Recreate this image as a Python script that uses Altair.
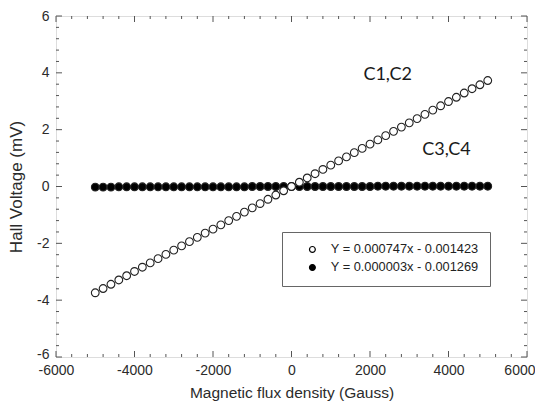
import altair as alt
import pandas as pd

# ---- data ----
flux = [-5000, -4800, -4600, -4400, -4200, -4000, -3800, -3600, -3400, -3200,
        -3000, -2800, -2600, -2400, -2200, -2000, -1800, -1600, -1400, -1200,
        -1000, -800, -600, -400, -200, 0, 200, 400, 600, 800,
        1000, 1200, 1400, 1600, 1800, 2000, 2200, 2400, 2600, 2800,
        3000, 3200, 3400, 3600, 3800, 4000, 4200, 4400, 4600, 4800, 5000]

v_c1c2 = [-3.74, -3.59, -3.44, -3.29, -3.14, -2.99, -2.84, -2.69, -2.54, -2.39,
          -2.24, -2.09, -1.94, -1.79, -1.64, -1.50, -1.35, -1.20, -1.05, -0.90,
          -0.75, -0.60, -0.45, -0.30, -0.15, 0.00, 0.15, 0.30, 0.45, 0.60,
          0.75, 0.90, 1.04, 1.19, 1.34, 1.49, 1.64, 1.79, 1.94, 2.09,
          2.24, 2.39, 2.54, 2.69, 2.84, 2.99, 3.14, 3.29, 3.44, 3.58, 3.73]

v_c3c4 = [-0.02, -0.02, -0.02, -0.01, -0.01, -0.01, -0.01, -0.01, -0.01, -0.01,
          -0.01, -0.01, -0.01, -0.01, -0.01, -0.01, -0.01, -0.01, -0.01, -0.01,
          -0.00, -0.00, -0.00, -0.00, -0.00, -0.00, 0.00, 0.00, 0.00, 0.00,
          0.00, 0.00, 0.00, 0.00, 0.00, 0.00, 0.01, 0.01, 0.01, 0.01,
          0.01, 0.01, 0.01, 0.01, 0.01, 0.01, 0.01, 0.01, 0.01, 0.01, 0.01]

series_names = ["Y = 0.000747x - 0.001423", "Y = 0.000003x - 0.001269"]

labels_text = ["C1,C2", "C3,C4"]
labels_x = [2450, 3950]
labels_y = [3.92, 1.28]

x_major = [-6000, -4000, -2000, 0, 2000, 4000, 6000]
x_minor = [-5600, -5200, -4800, -4400, -3600, -3200, -2800, -2400, -1600, -1200,
           -800, -400, 400, 800, 1200, 1600, 2400, 2800, 3200, 3600, 4400, 4800,
           5200, 5600]
y_major = [-6, -4, -2, 0, 2, 4, 6]
y_minor = [-5.6, -5.2, -4.8, -4.4, -3.6, -3.2, -2.8, -2.4, -1.6, -1.2, -0.8, -0.4,
           0.4, 0.8, 1.2, 1.6, 2.4, 2.8, 3.2, 3.6, 4.4, 4.8, 5.2, 5.6]

W, H = 471, 341
FONT = "Liberation Sans"
AXC = "#555555"
TXT = "#2b2b2b"

# filled series first so the open circles are drawn on top
df = pd.concat([
    pd.DataFrame({"x": flux, "y": v_c3c4, "series": series_names[1]}),
    pd.DataFrame({"x": flux, "y": v_c1c2, "series": series_names[0]}),
], ignore_index=True)

xscale = alt.Scale(domain=[-6000, 6000], nice=False, zero=False)
yscale = alt.Scale(domain=[-6, 6], nice=False, zero=False)

xaxis = alt.Axis(values=x_major, labelExpr="'' + datum.value", title="Magnetic flux density (Gauss)",
                 ticks=False, domain=False, grid=False, labelFont=FONT, labelFontSize=14,
                 labelColor=TXT, labelPadding=6, titleFont=FONT, titleFontSize=15.5,
                 titleFontWeight="normal", titleColor=TXT, titlePadding=8,
                 labelFlush=False, labelOverlap=False,
                 labelAlign=alt.condition("datum.value == 6000", alt.value("right"), alt.value("center")),
                 labelOffset=alt.condition("datum.value == 6000", alt.value(8), alt.value(0)))
yaxis = alt.Axis(values=y_major, labelExpr="'' + datum.value", title="Hall Voltage (mV)",
                 ticks=False, domain=False, grid=False, labelFont=FONT, labelFontSize=14,
                 labelColor=TXT, labelPadding=7, titleFont=FONT, titleFontSize=17,
                 titleFontWeight="normal", titleColor=TXT, titlePadding=11,
                 labelFlush=False, labelOverlap=False,
                 labelOffset=alt.condition("datum.value == -6", alt.value(-3), alt.value(0)))

points = alt.Chart(df).mark_point(shape="circle", filled=False, size=60, strokeWidth=1.1,
                                  opacity=1).encode(
    x=alt.X("x:Q", scale=xscale, axis=xaxis),
    y=alt.Y("y:Q", scale=yscale, axis=yaxis),
    fill=alt.Fill("series:N",
                  scale=alt.Scale(domain=series_names, range=["white", "black"]),
                  legend=alt.Legend(title=None, orient="none", legendX=226, legendY=216,
                                    direction="vertical", padding=11, strokeColor="#666666",
                                    fillColor="white", symbolType="circle", symbolSize=34,
                                    symbolStrokeColor="black", symbolStrokeWidth=1.2,
                                    symbolOffset=13, labelFont=FONT, labelFontSize=12.8,
                                    labelColor="#222222", labelOffset=12, rowPadding=4)),
    stroke=alt.value("#222222"),
)

ann = alt.Chart(pd.DataFrame({"t": labels_text, "x": labels_x, "y": labels_y})).mark_text(
    font="Lato", fontSize=18, color="#1a1a1a", align="center", baseline="middle").encode(
    x=alt.X("x:Q", scale=xscale), y=alt.Y("y:Q", scale=yscale), text="t:N")


def xticks(vals, length):
    d = pd.DataFrame({"v": vals})
    b = alt.Chart(d).mark_rule(color=AXC, strokeWidth=1).encode(
        x=alt.X("v:Q", scale=xscale), y=alt.value(H), y2=alt.value(H - length))
    t = alt.Chart(d).mark_rule(color=AXC, strokeWidth=1).encode(
        x=alt.X("v:Q", scale=xscale), y=alt.value(0), y2=alt.value(length))
    return [b, t]


def yticks(vals, length):
    d = pd.DataFrame({"v": vals})
    l = alt.Chart(d).mark_rule(color=AXC, strokeWidth=1).encode(
        y=alt.Y("v:Q", scale=yscale), x=alt.value(0), x2=alt.value(length))
    r = alt.Chart(d).mark_rule(color=AXC, strokeWidth=1).encode(
        y=alt.Y("v:Q", scale=yscale), x=alt.value(W), x2=alt.value(W - length))
    return [l, r]


tick_layers = xticks(x_major, 6) + xticks(x_minor, 3) + yticks(y_major, 6) + yticks(y_minor, 3)

chart = alt.layer(*tick_layers, points, ann).properties(
    width=W, height=H,
    autosize=alt.AutoSizeParams(type="none"),
    padding={"left": 48, "top": 8, "right": 8, "bottom": 45},
).configure_view(stroke=AXC, strokeWidth=1.5).configure(background="white")

chart.save("out.html", embed_options={"renderer": "svg", "actions": False})
